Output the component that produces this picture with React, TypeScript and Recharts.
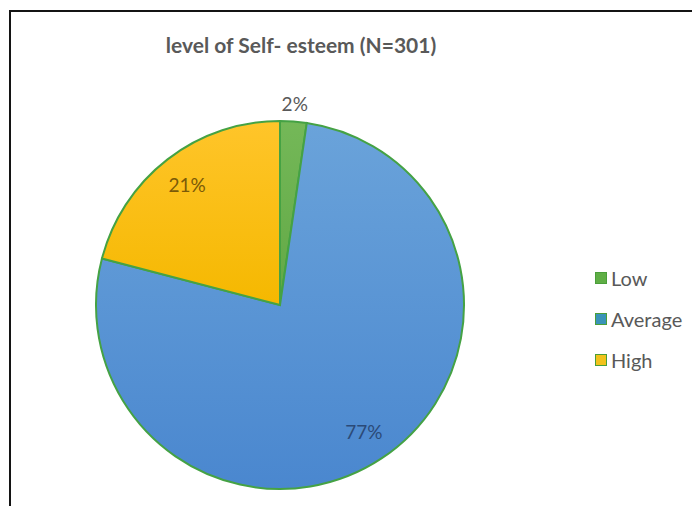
import React from "react";
import { PieChart, Pie, Cell, Legend } from "recharts";

const categories = ["Low", "Average", "High"];
const counts = [7, 231, 63];
const sliceColors = ["url(#gLow)", "url(#gAvg)", "url(#gHigh)"];
const legendColors = ["#5fae45", "#3a93b8", "#f2c21b"];
const labelColors = ["#595959", "#2b4a78", "#7a5a08"];
const title = "level of Self- esteem (N=301)";

const data = categories.map((name, i) => ({ name, value: counts[i] }));

const RAD = Math.PI / 180;

const renderLabel = (props: any) => {
  const { cx, cy, midAngle, outerRadius, percent, index } = props;
  const r = index === 0 ? outerRadius + 18 : 152;
  const x = cx + r * Math.cos(-midAngle * RAD);
  const y = cy + r * Math.sin(-midAngle * RAD);
  return (
    <text
      x={x}
      y={y}
      textAnchor="middle"
      dominantBaseline="central"
      fill={labelColors[index]}
      fontFamily="Lato, 'Open Sans', sans-serif"
      fontSize={19}
    >
      {Math.round(percent * 100) + "%"}
    </text>
  );
};

const LegendContent = () => (
  <div style={{ fontFamily: "Lato, 'Open Sans', sans-serif" }}>
    {categories.map((c, i) => (
      <div
        key={c}
        style={{ display: "flex", alignItems: "center", height: 41, color: "#595959", fontSize: 20 }}
      >
        <span
          style={{
            display: "inline-block",
            width: 10,
            height: 10,
            background: legendColors[i],
            border: "1.5px solid #4a9e3a",
            marginRight: 4,
          }}
        />
        {c}
      </div>
    ))}
  </div>
);

export default function App() {
  return (
    <div style={{ position: "fixed", left: 0, top: 0, width: 692, height: 506, overflow: "hidden", background: "#fff" }}>
      <div
        style={{
          position: "absolute",
          left: 9,
          top: 10,
          width: 720,
          height: 540,
          border: "2.5px solid #141414",
        }}
      />
      <div
        style={{
          position: "absolute",
          left: 0,
          top: 30,
          width: 602,
          textAlign: "center",
          fontFamily: "Lato, 'Open Sans', sans-serif",
          fontWeight: 700,
          fontSize: 21,
          color: "#595959",
          lineHeight: "30px",
        }}
      >
        {title}
      </div>
      <div style={{ position: "absolute", left: 0, top: 0 }}>
        <PieChart width={692} height={506} margin={{ top: 0, right: 0, bottom: 0, left: 0 }}>
          <defs>
            <linearGradient id="gAvg" x1="0" y1="0" x2="0" y2="1">
              <stop offset="0%" stopColor="#6aa3da" />
              <stop offset="100%" stopColor="#4a87cf" />
            </linearGradient>
            <linearGradient id="gHigh" x1="0" y1="0" x2="0" y2="1">
              <stop offset="0%" stopColor="#ffc52a" />
              <stop offset="100%" stopColor="#f5b800" />
            </linearGradient>
            <linearGradient id="gLow" x1="0" y1="0" x2="0" y2="1">
              <stop offset="0%" stopColor="#74b858" />
              <stop offset="100%" stopColor="#62a845" />
            </linearGradient>
          </defs>
          <Pie
            data={data}
            dataKey="value"
            nameKey="name"
            cx={280}
            cy={305}
            outerRadius={184}
            startAngle={90}
            endAngle={-270}
            stroke="#45a244"
            strokeWidth={2}
            label={renderLabel}
            labelLine={false}
            isAnimationActive={false}
          >
            {data.map((d, i) => (
              <Cell key={d.name} fill={sliceColors[i]} />
            ))}
          </Pie>
          <Legend
            content={<LegendContent />}
            layout="vertical"
            wrapperStyle={{ position: "absolute", left: 595, top: 257, width: 100 }}
          />
        </PieChart>
      </div>
    </div>
  );
}
